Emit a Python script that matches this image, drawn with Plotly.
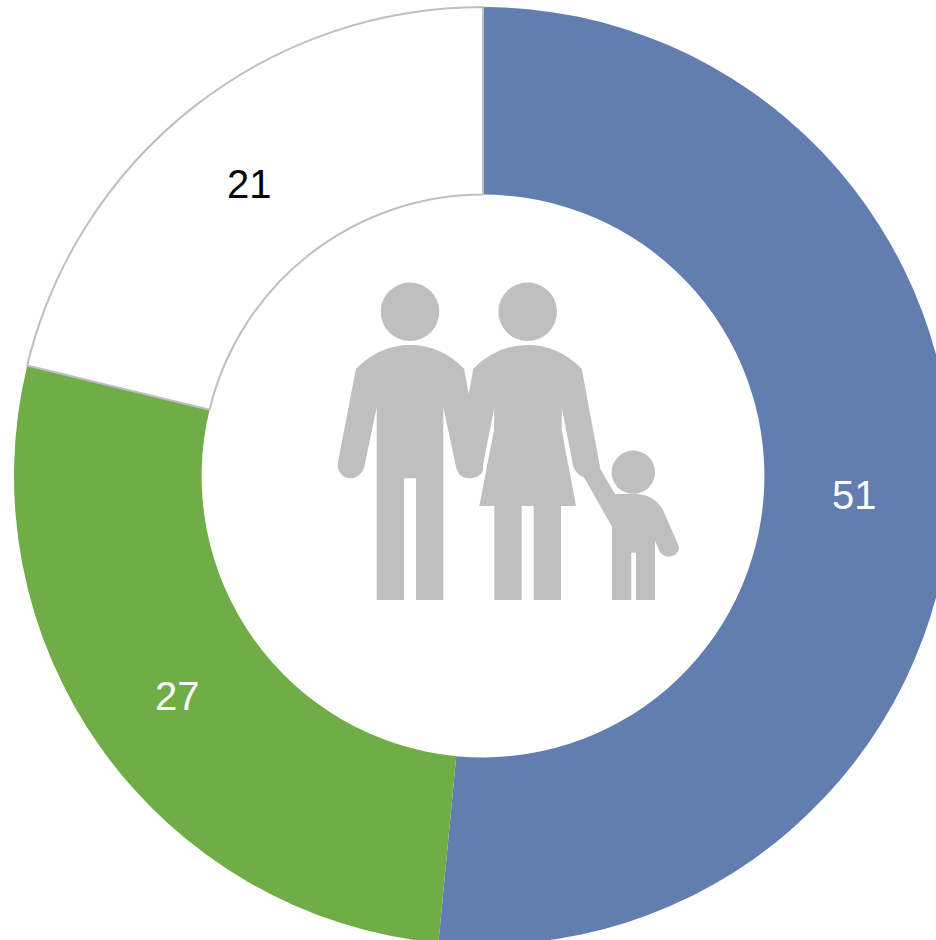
import plotly.graph_objects as go

# Data
labels = ["A", "B", "C"]
values = [51, 27, 21]
colors = ["#627DAF", "#70AD47", "#FFFFFF"]
text_colors = ["#FFFFFF", "#FFFFFF", "#000000"]
line_colors = ["rgba(0,0,0,0)", "rgba(0,0,0,0)", "#BFBFBF"]
line_widths = [0, 0, 2]
label_px = [(854.5, 495), (177, 695.5), (249, 184)]

# Canvas is larger than the window so that the ring is cropped on the right/bottom as in the reference
W, H = 952, 952
L, R, T, B = 14, 0, 7, 7
PW, PH = W - L - R, H - T - B
ICON = "#BFBFBF"


def X(px):
    return (px - L) / PW


def Y(py):
    return 1 - (py - T) / PH


def path(segs):
    out = []
    for s in segs:
        cmd, pts = s[0], s[1:]
        out.append(cmd + " ".join(f"{X(pts[i]):.5f},{Y(pts[i + 1]):.5f}" for i in range(0, len(pts), 2)))
    return " ".join(out) + " Z"


def circle(cx, cy, r):
    return dict(type="circle", xref="paper", yref="paper", x0=X(cx - r), x1=X(cx + r),
                y0=Y(cy + r), y1=Y(cy - r), fillcolor=ICON, line=dict(width=0), layer="above")


man = [
    ("M", 356, 368.7), ("Q", 380, 345, 410, 345), ("Q", 441, 345, 464, 368.7),
    ("L", 482.7, 466.7), ("C", 485, 474, 476, 478.3, 469.3, 478.3), ("C", 462, 478.3, 457, 473, 456, 466.7),
    ("L", 443.3, 407.3), ("L", 443.3, 600), ("L", 416, 600), ("L", 416, 478.3), ("L", 404, 478.3),
    ("L", 404, 600), ("L", 376.7, 600), ("L", 376.7, 407.3), ("L", 364.3, 466.7),
    ("C", 362, 474, 357, 478.3, 351, 478.3), ("C", 342, 478.3, 336, 470, 338, 461.7),
]
woman = [
    ("M", 473.3, 368.7), ("Q", 497, 345, 527.7, 345), ("Q", 558, 345, 581.7, 368.7),
    ("L", 600, 466.7), ("L", 584, 477.3), ("Q", 576, 474, 573.3, 466.7),
    ("L", 561.7, 407.3), ("L", 561.7, 430), ("L", 576, 506), ("L", 561, 506), ("L", 561, 600),
    ("L", 533.7, 600), ("L", 533.7, 506), ("L", 521.7, 506), ("L", 521.7, 600), ("L", 494.3, 600),
    ("L", 494.3, 506), ("L", 479.3, 506), ("L", 494, 430), ("L", 494.3, 407.3), ("L", 482.7, 466.7),
    ("L", 456, 466.7),
]
child = [
    ("M", 615, 494), ("L", 636.7, 494), ("Q", 655, 495, 663.3, 510.7), ("L", 678.3, 545),
    ("C", 681, 551, 675, 556.7, 668.3, 556.7), ("Q", 662, 556.7, 659, 550), ("L", 655, 540.7),
    ("L", 655, 600), ("L", 636, 600), ("L", 636, 552.7), ("L", 631.3, 552.7), ("L", 631.3, 600),
    ("L", 612, 600), ("L", 612, 526.7), ("L", 584, 477.3), ("L", 580, 468), ("L", 596, 458), ("L", 600, 468.3),
]

shapes = [
    circle(410, 311.7, 29.3), circle(527.7, 311.7, 29.3), circle(633.3, 472.3, 21.7),
]
for body in (man, woman, child):
    shapes.append(dict(type="path", xref="paper", yref="paper", path=path(body),
                       fillcolor=ICON, line=dict(width=0), layer="above"))

annotations = [
    dict(text=str(v), xref="paper", yref="paper", x=X(px), y=Y(py), xanchor="center", yanchor="middle",
         showarrow=False, font=dict(family="Liberation Sans, Arial, sans-serif", size=40, color=c))
    for v, c, (px, py) in zip(values, text_colors, label_px)
]

fig = go.Figure(go.Pie(
    labels=labels, values=values, hole=0.6, sort=False, direction="clockwise", rotation=0,
    marker=dict(colors=colors, line=dict(color=line_colors, width=line_widths)),
    textinfo="none",
    domain=dict(x=[0, 1], y=[0, 1]), hoverinfo="label+value",
))
fig.update_layout(
    width=W, height=H, autosize=False, showlegend=False,
    margin=dict(l=L, r=R, t=T, b=B, pad=0, autoexpand=False),
    paper_bgcolor="white", plot_bgcolor="white", shapes=shapes, annotations=annotations,
)
fig.write_html(
    "out.html",
    config=dict(displayModeBar=False),
    post_script="document.body.style.margin='0';document.body.style.overflow='hidden';"
                "document.documentElement.style.overflow='hidden';",
)
